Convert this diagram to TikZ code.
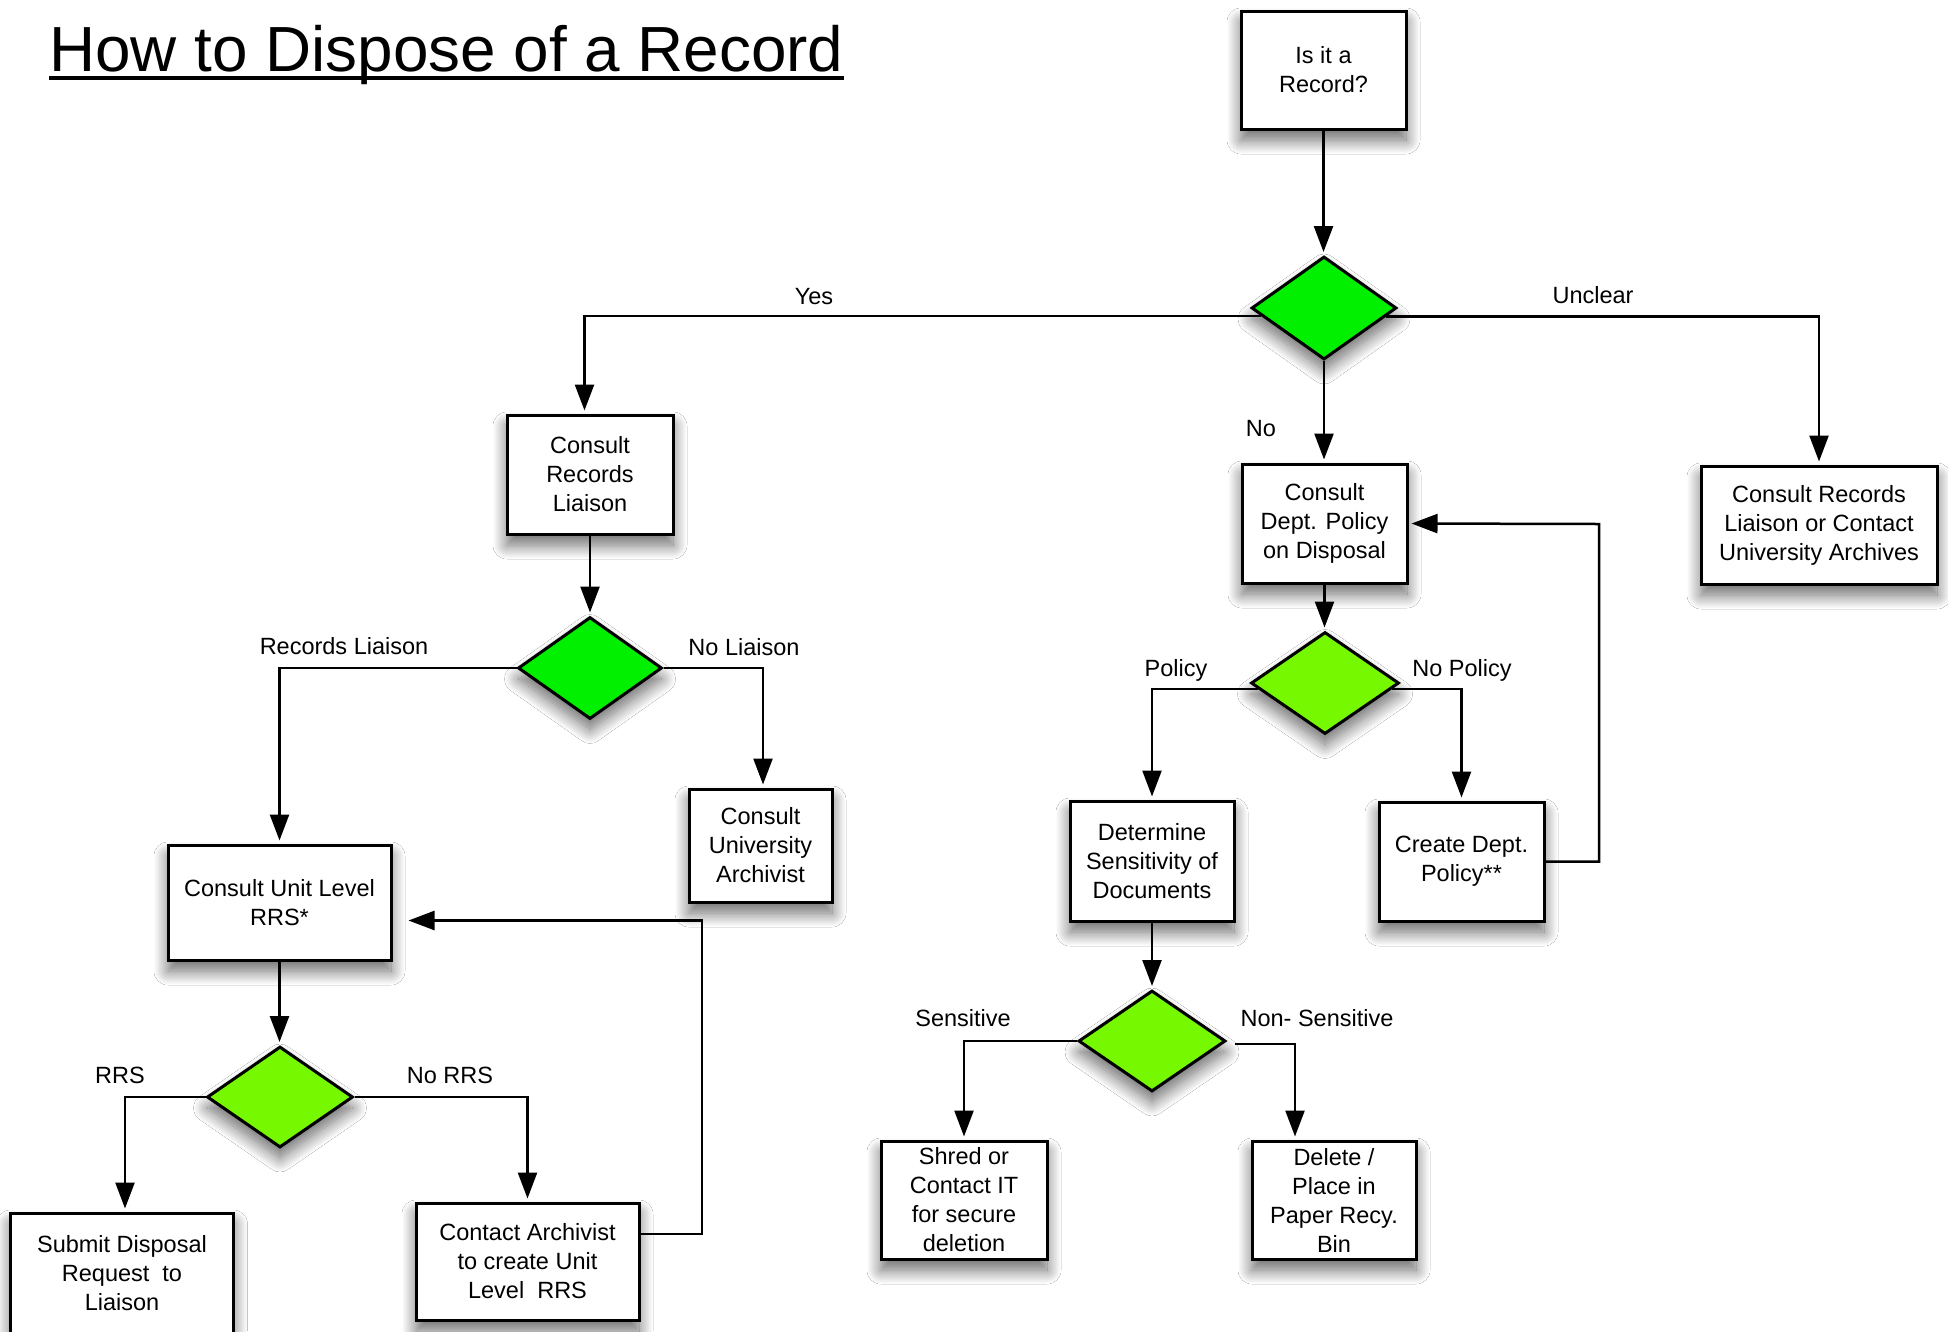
\documentclass[tikz,border=0pt]{standalone}
\usepackage{fontspec}
\setmainfont{Liberation Sans}
\usetikzlibrary{shapes.geometric,arrows.meta,shadows.blur}
\definecolor{dgreen}{RGB}{0,240,0}
\definecolor{lgreen}{RGB}{118,248,0}
\tikzset{
  myshadow/.style={blur shadow={shadow xshift=0pt, shadow yshift=-11pt, shadow blur radius=14pt, shadow blur steps=20, shadow opacity=60}},
  boxstyle/.style={draw, line width=3pt, fill=white, inner sep=0pt, align=center, font=\fontsize{23.5}{29}\selectfont, myshadow},
  decision/.style={diamond, draw, line width=3pt, inner sep=0pt, myshadow},
  lbl/.style={anchor=base, inner sep=0pt, font=\fontsize{23.5}{29}\selectfont},
  conn/.style={line width=2.5pt},
  arr/.style={conn, -{Triangle[length=26pt,width=19pt]}, shorten >=3pt},
}
\begin{document}
\begin{tikzpicture}[x=1pt,y=-1pt]
\useasboundingbox[fill=white] (0,0) rectangle (1948,1331);

% title
\node[anchor=base west, inner sep=0pt, font=\fontsize{63.8}{70}\selectfont] (title) at (49,71) {How to Dispose of a Record};
\draw[line width=4pt] ([yshift=-6.6pt]title.base west) -- ([yshift=-6.6pt]title.base east);

% boxes
\node[boxstyle, minimum width=165pt, minimum height=118pt] (b1) at (1323.5,70) {Is it a\\Record?};
\node[boxstyle, minimum width=166pt, minimum height=119pt] (b3) at (590,474.5) {Consult\\Records\\Liaison};
\node[boxstyle, minimum width=165pt, minimum height=119pt] (b4) at (1324.5,523.5) {Consult\\Dept. Policy\\on Disposal};
\node[boxstyle, minimum width=236pt, minimum height=118pt] (b5) at (1819,525) {Consult Records\\Liaison or Contact\\University Archives};
\node[boxstyle, minimum width=143pt, minimum height=113pt] (b7) at (760.5,845.5) {Consult\\University\\Archivist};
\node[boxstyle, minimum width=223pt, minimum height=115pt] (b8) at (279.5,902.5) {Consult Unit Level\\RRS*};
\node[boxstyle, minimum width=223pt, minimum height=120pt] (b10) at (122,1273) {Submit Disposal\\Request~ to\\Liaison};
\node[boxstyle, minimum width=223pt, minimum height=117pt] (b11) at (527.5,1261.5) {Contact Archivist\\to create Unit\\Level~ RRS};
\node[boxstyle, minimum width=164pt, minimum height=120pt] (b13) at (1152,861) {Determine\\Sensitivity of\\Documents};
\node[boxstyle, minimum width=165pt, minimum height=119pt] (b14) at (1461.5,861.5) {Create Dept.\\Policy**};
\node[boxstyle, minimum width=166pt, minimum height=118pt] (b16) at (964,1200) {Shred or\\Contact IT\\for secure\\deletion};
\node[boxstyle, minimum width=164pt, minimum height=118pt] (b17) at (1334,1200) {Delete /\\Place in\\Paper Recy.\\Bin};

% decisions
\node[decision, fill=dgreen, minimum width=145pt, minimum height=103pt] (d1) at (1324,308) {};
\node[decision, fill=dgreen, minimum width=144pt, minimum height=102pt] (d2) at (590,668) {};
\node[decision, fill=lgreen, minimum width=146pt, minimum height=101pt] (d3) at (280,1097) {};
\node[decision, fill=lgreen, minimum width=148pt, minimum height=102pt] (d4) at (1325,683) {};
\node[decision, fill=lgreen, minimum width=147pt, minimum height=101pt] (d5) at (1152,1041) {};

% helper coordinates for loops
\coordinate (fbA) at (702,920.5);
\coordinate (fbB) at (1599,524);

% connectors
\draw[arr] (b1.south) -- (b1.south |- d1.north);
\draw[arr] (d1.187.5) -| ([xshift=-5.5pt]b3.north);
\draw[arr] (d1.352.5) -| (b5.north);
\draw[arr] (d1.south) -- (d1.south |- b4.north);
\draw[arr] (b3.south) -- (b3.south |- d2.north);
\draw[arr] (d2.west) -| (b8.north);
\draw[arr] (d2.east) -| ([xshift=2.5pt]b7.north);
\draw[arr] (b8.south) -- (b8.south |- d3.north);
\draw[arr] (d3.west) -| ([xshift=3pt]b10.north);
\draw[arr] (d3.east) -| (b11.north);
\draw[arr, shorten >=16pt] ([yshift=27.5pt]b11.east) -| (fbA) -- (b8.east |- fbA);
\draw[arr] (b4.south) -- (b4.south |- d4.north);
\draw[arr] (d4.185) -| (b13.north);
\draw[arr] (d4.355) -| (b14.north);
\draw[arr] (b14.east) -| (fbB) -- (b4.east);
\draw[arr] (b13.south) -- (b13.south |- d5.north);
\draw[arr] (d5.west) -| (b16.north);
\draw[arr] ([xshift=8pt,yshift=-3pt]d5.east) -| ([xshift=-39pt]b17.north);

% labels
\node[lbl] (lyes) at (814,304) {Yes};
\node[lbl] (lunclear) at (1593,303) {Unclear};
\node[lbl] (lno) at (1261,436) {No};
\node[lbl] (lrl) at (344,654) {Records Liaison};
\node[lbl] (lnl) at (744,655) {No Liaison};
\node[lbl] (lpol) at (1176,676) {Policy};
\node[lbl] (lnpol) at (1462,676) {No Policy};
\node[lbl] (lrrs) at (120,1083) {RRS};
\node[lbl] (lnrrs) at (450,1083) {No RRS};
\node[lbl] (lsens) at (963,1026) {Sensitive};
\node[lbl] (lnsens) at (1317,1026) {Non- Sensitive};
\end{tikzpicture}
\end{document}
